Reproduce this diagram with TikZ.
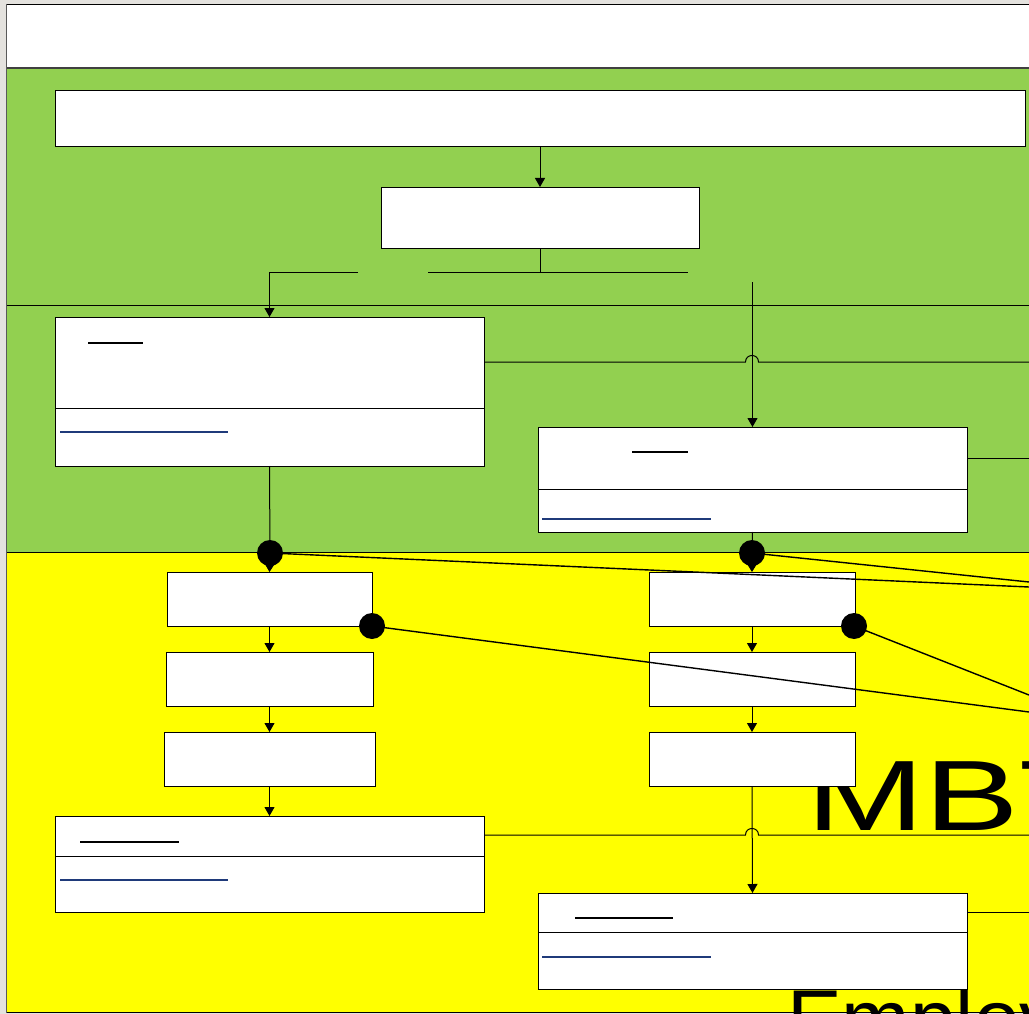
\documentclass[tikz,border=0pt]{standalone}
\usepackage{fontspec}
\setmainfont{Liberation Sans}
\usetikzlibrary{arrows.meta}
\definecolor{lanegreen}{HTML}{92D050}
\definecolor{laneyellow}{HTML}{FFFF00}
\definecolor{bggray}{HTML}{E4E2DE}
\definecolor{linkblue}{HTML}{1F3A7A}
\begin{document}
\begin{tikzpicture}[x=1pt,y=-1pt,
  box/.style={draw=black, fill=white, line width=0.9pt, inner sep=0pt, outer sep=0pt, anchor=north west},
  conn/.style={line width=1pt, draw=black},
  arr/.style={conn, -{Triangle[length=9pt,width=10pt]}},
  tiparr/.style={conn, -{Triangle[length=10pt,width=12pt]}},
  longline/.style={line width=1.4pt, draw=black},
  hl/.style={line width=1.6pt, draw=linkblue},
  ul/.style={line width=1.6pt, draw=black},
  dot/.style={circle, fill=black, minimum size=26pt, inner sep=0pt, outer sep=0pt},
  lane/.style={line width=0.9pt, draw=black}
]
\useasboundingbox (0,0) rectangle (1029,1014);
\begin{scope}
\clip (0,0) rectangle (1029,1014);
% background and lanes
\fill[bggray] (0,0) rectangle (1029,1014);
\fill[white] (6,4) rectangle (1040,68);
\fill[lanegreen] (6,68) rectangle (1040,552);
\fill[laneyellow] (6,552) rectangle (1040,1012);
\draw[lane] (6,4) -- (1040,4);
\draw[lane, draw=black!75, line width=1.4pt] (6,68) -- (1040,68);
\draw[lane] (6,305) -- (1040,305);
\draw[lane] (6,552) -- (1040,552);
\draw[lane] (6,1012.5) -- (1040,1012.5);
\draw[line width=1.4pt, draw=black!65] (6.5,4) -- (6.5,1013);

% big text
\node[anchor=base west, font=\fontsize{100}{100}\selectfont, xscale=1.42, inner sep=0pt] (mbt) at (806,830) {MBT};
\node[anchor=base west, font=\fontsize{82}{82}\selectfont, inner sep=0pt] (employ) at (787,1047) {Employ};

% green lane boxes
\node[box, minimum width=970pt, minimum height=56pt] (top) at (55,90) {};
\node[box, minimum width=318pt, minimum height=61pt] (mid) at (381,187) {};
\node[box, minimum width=429pt, minimum height=149pt] (A) at (55,317) {};
\node[box, minimum width=429pt, minimum height=105pt] (B) at (538,427) {};
\draw[conn] (A.west |- 0,408) -- (A.east |- 0,408);
\draw[conn] (B.west |- 0,489) -- (B.east |- 0,489);
\draw[ul] (88,343) -- (143,343);
\draw[hl] (60,432) -- (228,432);
\draw[ul] (632,452) -- (688,452);
\draw[hl] (542,519) -- (711,519);

% yellow lane boxes
\node[box, minimum width=205pt, minimum height=54pt] (C1) at (167,572) {};
\node[box, minimum width=207pt, minimum height=54pt] (C2) at (166,652) {};
\node[box, minimum width=211pt, minimum height=54pt] (C3) at (164,732) {};
\node[box, minimum width=429pt, minimum height=96pt] (E) at (55,816) {};
\node[box, minimum width=206pt, minimum height=54pt] (D1) at (649,572) {};
\node[box, minimum width=206pt, minimum height=54pt] (D2) at (649,652) {};
\node[box, minimum width=206pt, minimum height=54pt] (D3) at (649,732) {};
\node[box, minimum width=429pt, minimum height=96pt] (F) at (538,893) {};
\draw[conn] (E.west |- 0,856) -- (E.east |- 0,856);
\draw[conn] (F.west |- 0,932) -- (F.east |- 0,932);
\draw[ul] (80,842) -- (179,842);
\draw[hl] (60,880) -- (228,880);
\draw[ul] (575,918) -- (673,918);
\draw[hl] (542,957) -- (711,957);

% connectors in green lane
\draw[arr] (top.south) -- (mid.north);
\coordinate (jn) at (540,272);
\coordinate (hl1) at (358,272);
\coordinate (hr1) at (428,272);
\coordinate (hr2) at (688,272);
\coordinate (vb) at (752.5,282);
\draw[conn] (mid.south) -- (jn);
\draw[conn] (hr1) -- (hr2);
\draw[arr] (hl1) -| (A.north);
\draw[arr] (vb) -- (B.north);
\coordinate (ra) at (1040,362);
\draw[conn] (A.north east |- 0,362) -- (745.5,362) .. controls (745.5,353.3) and (758.5,353.3) .. (758.5,362) -- (ra);
\coordinate (rb) at (1040,458);
\draw[conn] (B.north east |- 0,458) -- (rb);

% junction dots
\node[dot] (d1) at (270,553) {};
\node[dot] (d2) at (752,553) {};
\node[dot] (d3) at (372,626) {};
\node[dot] (d4) at (854,626) {};
\draw[conn] (A.south) -- (d1);
\draw[conn] (B.south) -- (d2);
\draw[tiparr] (d1.center) -- (C1.north);
\draw[tiparr] (d2.center) -- (D1.north);

% yellow lane connectors
\draw[arr] (C1.south) -- (C2.north);
\draw[arr] (C2.south) -- (C3.north);
\draw[arr] (C3.south) -- (E.north);
\draw[arr] (D1.south) -- (D2.north);
\draw[arr] (D2.south) -- (D3.north);
\coordinate (re) at (1040,835);
\draw[conn] (E.north east |- 0,835) -- (745.5,835) .. controls (745.5,826.3) and (758.5,826.3) .. (758.5,835) -- (re);
\draw[arr] (D3.south) -- (F.north);
\coordinate (rf) at (1040,912);
\draw[conn] (F.north east |- 0,912) -- (rf);

% long lines to the right
\coordinate (r1) at (1029,587);
\coordinate (r2) at (1029,582);
\coordinate (r3) at (1029,712);
\coordinate (r4) at (1029,695);
\draw[longline] (d1.center) -- (r1);
\draw[longline] (d2.center) -- (r2);
\draw[longline] (d3.center) -- (r3);
\draw[longline] (d4.center) -- (r4);
\end{scope}
\end{tikzpicture}
\end{document}
